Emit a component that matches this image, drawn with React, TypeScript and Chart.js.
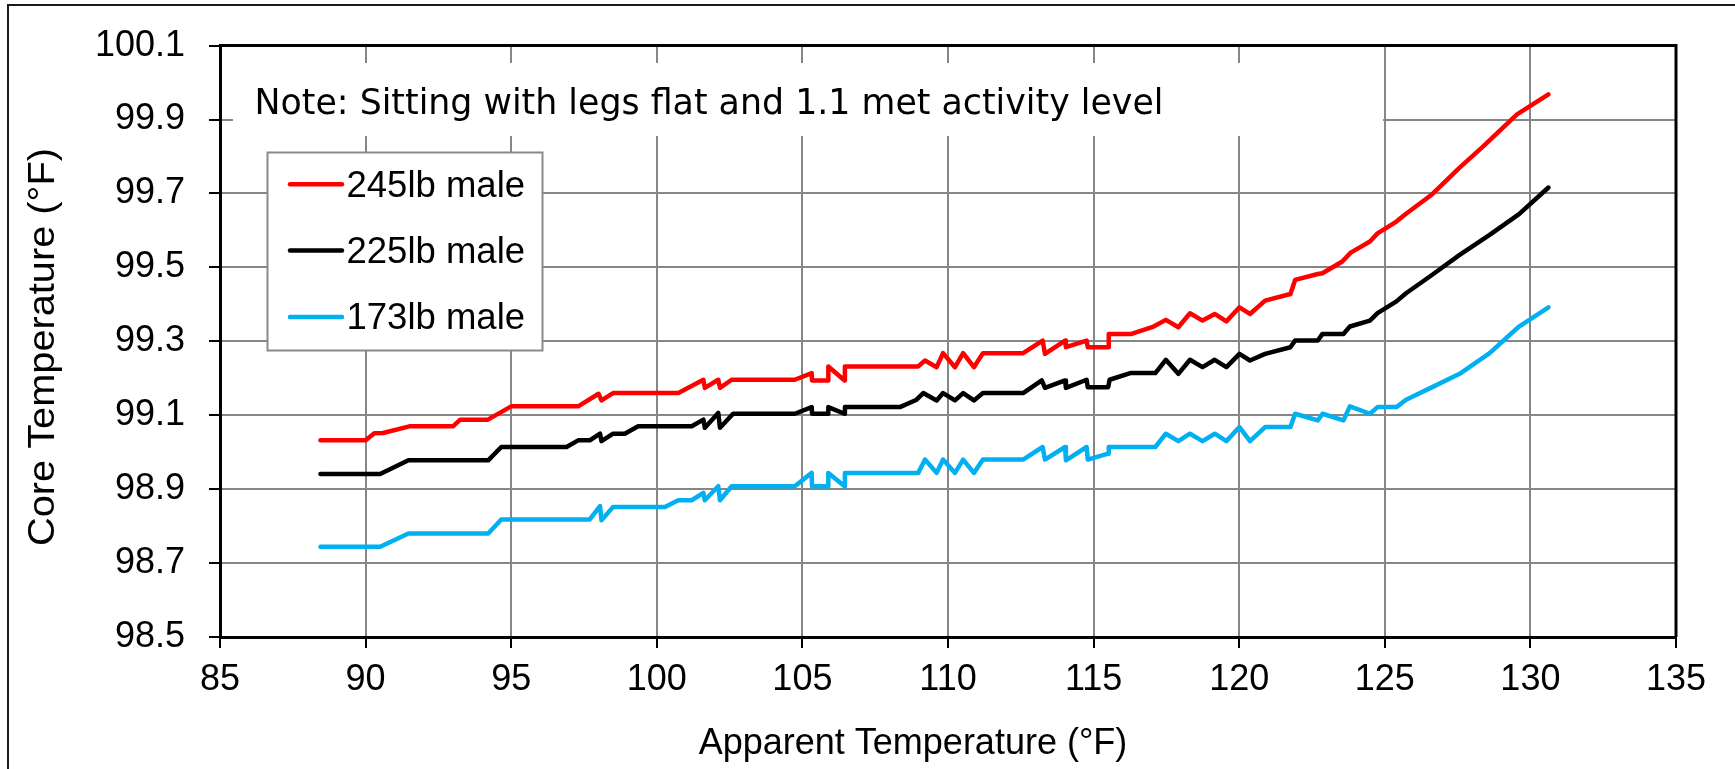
import React, { useEffect, useRef } from "react";
import { Chart, registerables } from "chart.js";

Chart.register(...registerables);

// ---- Data ----
const xTickValues = [85, 90, 95, 100, 105, 110, 115, 120, 125, 130, 135];
const yTickValues = [98.5, 98.7, 98.9, 99.1, 99.3, 99.5, 99.7, 99.9, 100.1];

const seriesLabels = ["245lb male", "225lb male", "173lb male"];
const seriesColors = ["#FF0000", "#000000", "#00B0F0"];

const noteText = "Note: Sitting with legs flat and 1.1 met activity level";
const xTitle = "Apparent Temperature (\u00B0F)";
const yTitle = "Core Temperature (\u00B0F)";

const apparent245 = [
  88.45, 90.0, 90.3, 90.6, 91.5, 93.0, 93.25, 94.2, 95.0, 97.3, 98.0, 98.1, 98.5, 100.74,
  101.6, 101.65, 102.11, 102.17, 102.57, 104.74, 105.32, 105.33, 105.88, 105.89, 106.45, 106.46,
  108.98, 109.21, 109.61, 109.83, 110.24, 110.52, 110.89, 111.2, 112.58, 113.25, 113.33, 114.02,
  114.05, 114.76, 114.8, 115.5, 115.52, 116.3, 117.06, 117.48, 117.91, 118.31, 118.74, 119.16,
  119.56, 120.01, 120.37, 120.89, 121.76, 121.92, 122.7, 122.86, 123.54, 123.83, 124.49, 124.75,
  125.4, 125.73, 126.63, 127.57, 128.36, 129.54, 130.62,
];
const core245 = [
  99.032, 99.032, 99.051, 99.052, 99.07, 99.07, 99.088, 99.088, 99.124, 99.124, 99.158, 99.14, 99.16, 99.16,
  99.196, 99.174, 99.196, 99.174, 99.196, 99.196, 99.214, 99.194, 99.194, 99.232, 99.194, 99.232,
  99.232, 99.248, 99.23, 99.268, 99.23, 99.268, 99.23, 99.268, 99.268, 99.302, 99.266, 99.302,
  99.284, 99.302, 99.284, 99.284, 99.32, 99.32, 99.34, 99.358, 99.338, 99.376, 99.356, 99.374,
  99.354, 99.392, 99.374, 99.41, 99.428, 99.466, 99.482, 99.484, 99.516, 99.54, 99.57, 99.592,
  99.624, 99.645, 99.698, 99.77, 99.826, 99.914, 99.968,
];

const apparent225 = [
  88.45, 90.5, 91.47, 94.21, 94.66, 96.9, 97.3, 97.7, 98.05, 98.1, 98.5, 98.9, 99.36, 101.2,
  101.6, 101.65, 102.11, 102.17, 102.62, 104.74, 105.32, 105.33, 105.88, 105.89, 106.45, 106.46,
  108.35, 108.92, 109.15, 109.61, 109.83, 110.24, 110.52, 110.89, 111.2, 112.58, 113.22, 113.33,
  114.02, 114.05, 114.76, 114.8, 115.5, 115.55, 116.26, 117.12, 117.48, 117.91, 118.31, 118.74,
  119.16, 119.56, 120.01, 120.37, 120.89, 121.76, 121.92, 122.7, 122.86, 123.58, 123.8, 124.49,
  124.75, 125.4, 125.73, 126.63, 127.57, 128.6, 129.61, 130.62,
];
const core225 = [
  98.941, 98.941, 98.978, 98.978, 99.014, 99.014, 99.032, 99.032, 99.05, 99.03, 99.05, 99.05, 99.07, 99.07,
  99.088, 99.066, 99.106, 99.066, 99.104, 99.104, 99.122, 99.104, 99.104, 99.122, 99.104, 99.122,
  99.122, 99.142, 99.16, 99.14, 99.16, 99.14, 99.16, 99.14, 99.16, 99.16, 99.194, 99.174,
  99.194, 99.174, 99.196, 99.176, 99.176, 99.196, 99.214, 99.214, 99.25, 99.212, 99.25, 99.23,
  99.25, 99.23, 99.266, 99.248, 99.266, 99.284, 99.302, 99.302, 99.32, 99.32, 99.34, 99.356,
  99.376, 99.408, 99.43, 99.48, 99.534, 99.588, 99.644, 99.716,
];

const apparent173 = [
  88.45, 90.5, 91.47, 94.21, 94.66, 97.7, 98.05, 98.1, 98.5, 100.28, 100.74, 101.2,
  101.6, 101.65, 102.11, 102.17, 102.57, 104.74, 105.32, 105.33, 105.88, 105.89, 106.45, 106.46,
  108.98, 109.21, 109.61, 109.83, 110.24, 110.52, 110.89, 111.2, 112.58, 113.25, 113.33, 114.02,
  114.05, 114.76, 114.8, 115.5, 115.52, 117.12, 117.48, 117.91, 118.31, 118.74, 119.16, 119.56,
  120.01, 120.37, 120.89, 121.76, 121.92, 122.7, 122.86, 123.58, 123.8, 124.49, 124.75, 125.4,
  125.73, 126.63, 127.57, 128.6, 129.61, 130.62,
];
const core173 = [
  98.744, 98.744, 98.78, 98.78, 98.818, 98.818, 98.854, 98.816, 98.852, 98.852, 98.87, 98.87,
  98.89, 98.87, 98.908, 98.87, 98.908, 98.908, 98.944, 98.908, 98.908, 98.944, 98.908, 98.944,
  98.944, 98.98, 98.944, 98.98, 98.944, 98.98, 98.944, 98.98, 98.98, 99.014, 98.98, 99.014,
  98.978, 99.014, 98.98, 98.996, 99.014, 99.014, 99.05, 99.03, 99.05, 99.03, 99.05, 99.03,
  99.068, 99.03, 99.068, 99.068, 99.104, 99.086, 99.104, 99.086, 99.124, 99.104, 99.122, 99.122,
  99.142, 99.176, 99.212, 99.268, 99.34, 99.392,
];

const seriesX = [apparent245, apparent225, apparent173];
const seriesY = [core245, core225, core173];

const TICK_FONT = "'Liberation Sans', Arial, sans-serif";

const decorPlugin = {
  id: "decor",
  beforeDatasetsDraw(chart: any) {
    const ctx = chart.ctx as CanvasRenderingContext2D;
    const area = chart.chartArea;
    ctx.save();

    // top and right plot border
    ctx.strokeStyle = "#000";
    ctx.lineWidth = 3;
    ctx.beginPath();
    ctx.moveTo(area.left, area.top);
    ctx.lineTo(area.right, area.top);
    ctx.lineTo(area.right, area.bottom);
    ctx.stroke();

    // note box (white, no border)
    ctx.fillStyle = "#fff";
    ctx.fillRect(233, 63, 1150, 73);
    ctx.fillStyle = "#000";
    ctx.font = "36px 'DejaVu Sans', sans-serif";
    ctx.textBaseline = "alphabetic";
    ctx.textAlign = "left";
    const w = ctx.measureText(noteText).width;
    const target = 909;
    ctx.save();
    ctx.translate(254.5, 114);
    ctx.scale(target / w, 1);
    ctx.fillText(noteText, 0, 0);
    ctx.restore();

    // legend box
    ctx.fillStyle = "#fff";
    ctx.fillRect(267, 152, 276, 199);
    ctx.strokeStyle = "#8a8a8a";
    ctx.lineWidth = 2;
    ctx.strokeRect(267.5, 152.5, 275, 198);
    ctx.font = `36.5px ${TICK_FONT}`;
    ctx.textAlign = "left";
    ctx.textBaseline = "alphabetic";
    seriesLabels.forEach((label, i) => {
      const yc = 184.3 + i * 66.3;
      ctx.strokeStyle = seriesColors[i];
      ctx.lineWidth = 4.5;
      ctx.lineCap = "round";
      ctx.beginPath();
      ctx.moveTo(290, yc);
      ctx.lineTo(342, yc);
      ctx.stroke();
      ctx.fillStyle = "#000";
      ctx.fillText(label, 346.5, yc + 12.5);
    });

    ctx.restore();
  },
  afterDraw(chart: any) {
    const ctx = chart.ctx as CanvasRenderingContext2D;
    ctx.save();
    // outer frame (left and top)
    ctx.fillStyle = "#1a1a1a";
    ctx.fillRect(7, 4, 2, 769 - 4);
    ctx.fillRect(7, 4, 1735 - 7, 2);

    // axis titles
    ctx.fillStyle = "#000";
    ctx.font = `36px ${TICK_FONT}`;
    ctx.textAlign = "center";
    ctx.textBaseline = "alphabetic";
    ctx.fillText(xTitle, 913, 754);

    ctx.save();
    ctx.translate(53.5, 347);
    ctx.rotate(-Math.PI / 2);
    const tw = ctx.measureText(yTitle).width;
    ctx.scale(398 / tw, 1);
    ctx.fillText(yTitle, 0, 0);
    ctx.restore();

    ctx.restore();
  },
};

export default function App() {
  const canvasRef = useRef<HTMLCanvasElement | null>(null);

  useEffect(() => {
    const canvas = canvasRef.current;
    if (!canvas) return;

    const datasets = seriesLabels.map((label, i) => ({
      label,
      data: seriesX[i].map((x, j) => ({ x, y: seriesY[i][j] })),
      borderColor: seriesColors[i],
      backgroundColor: seriesColors[i],
      borderWidth: 4.5,
      pointRadius: 0,
      tension: 0,
      fill: false,
      borderCapStyle: "round" as const,
      borderJoinStyle: "round" as const,
    }));

    const chart = new Chart(canvas, {
      type: "line",
      data: { datasets },
      options: {
        animation: false,
        responsive: false,
        maintainAspectRatio: false,
        devicePixelRatio: 1,
        layout: { padding: { left: 0, top: 45, right: 59, bottom: 0 } },
        plugins: {
          legend: { display: false },
          tooltip: { enabled: false },
          title: { display: false },
        },
        scales: {
          x: {
            type: "linear",
            min: 85,
            max: 135,
            afterBuildTicks: (scale: any) => {
              scale.ticks = xTickValues.map((v) => ({ value: v }));
            },
            afterFit: (scale: any) => {
              scale.height = 132;
            },
            grid: {
              color: "#868686",
              lineWidth: 2,
              tickColor: "#000",
              tickWidth: 2,
              tickLength: 11,
            },
            border: { color: "#000", width: 3 },
            ticks: {
              color: "#000",
              font: { family: TICK_FONT, size: 36 },
              padding: 10,
              maxRotation: 0,
              autoSkip: false,
              callback: (v: any) => String(v),
            },
          },
          y: {
            type: "linear",
            min: 98.5,
            max: 100.1,
            afterBuildTicks: (scale: any) => {
              scale.ticks = yTickValues.map((v) => ({ value: v }));
            },
            afterFit: (scale: any) => {
              scale.width = 220;
            },
            grid: {
              color: "#868686",
              lineWidth: 2,
              tickColor: "#000",
              tickWidth: 2,
              tickLength: 11,
            },
            border: { color: "#000", width: 3 },
            ticks: {
              color: "#000",
              font: { family: TICK_FONT, size: 36 },
              padding: 24,
              autoSkip: false,
              callback: (v: any) => Number(v).toFixed(1),
            },
          },
        },
      },
      plugins: [decorPlugin],
    });

    return () => {
      chart.destroy();
    };
  }, []);

  return (
    <div
      style={{
        position: "fixed",
        left: 0,
        top: 0,
        width: 1735,
        height: 769,
        background: "#fff",
      }}
    >
      <canvas
        ref={canvasRef}
        width={1735}
        height={769}
        style={{ display: "block", width: 1735, height: 769 }}
      />
    </div>
  );
}
